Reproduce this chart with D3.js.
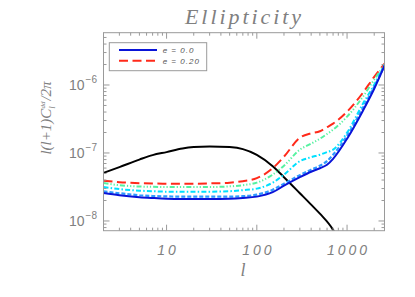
<!DOCTYPE html>
<html>
<head>
<meta charset="utf-8">
<script src="https://cdn.jsdelivr.net/npm/d3@7"></script>
<style>
  html, body { margin: 0; padding: 0; background: #fff; }
  svg { display: block; }
</style>
</head>
<body>
<div id="chart"></div>
<script>
// multipoles sampled along the x axis
const ells = [2, 3, 5, 7, 10, 15, 20, 30, 50, 70, 100, 150, 200, 300, 400, 500, 600, 700, 1000, 1500, 2000, 2600];

// black reference curve (own ell grid, it leaves the frame near l~700)
const refElls = [2, 3, 5, 7, 10, 15, 20, 30, 50, 70, 100, 150, 200, 300, 400, 500, 700, 800];
const refValues = [5.1e-8, 6.2e-8, 8.0e-8, 9.3e-8, 1.03e-7, 1.16e-7, 1.22e-7, 1.25e-7, 1.22e-7, 1.14e-7, 9.4e-8, 6.4e-8, 4.4e-8, 2.56e-8, 1.74e-8, 1.28e-8, 7.4e-9, 5.3e-9];

const e000 = [2.58e-8, 2.39e-8, 2.24e-8, 2.18e-8, 2.13e-8, 2.11e-8, 2.11e-8, 2.11e-8, 2.13e-8, 2.18e-8, 2.28e-8, 2.65e-8, 3.3e-8, 4.4e-8, 5.3e-8, 5.97e-8, 6.7e-8, 8.2e-8, 1.62e-7, 4.19e-7, 8.8e-7, 1.92e-6];
const e005 = [2.72e-8, 2.56e-8, 2.39e-8, 2.33e-8, 2.30e-8, 2.28e-8, 2.28e-8, 2.28e-8, 2.28e-8, 2.32e-8, 2.44e-8, 2.88e-8, 3.54e-8, 4.72e-8, 5.68e-8, 6.5e-8, 7.6e-8, 9.4e-8, 1.8e-7, 4.63e-7, 9.44e-7, 1.92e-6];
const e010 = [3.16e-8, 2.94e-8, 2.79e-8, 2.74e-8, 2.70e-8, 2.70e-8, 2.70e-8, 2.70e-8, 2.74e-8, 2.84e-8, 2.99e-8, 3.66e-8, 4.8e-8, 7.57e-8, 8.67e-8, 9.44e-8, 1.03e-7, 1.12e-7, 1.99e-7, 5.31e-7, 1.01e-6, 1.99e-6];
const e015 = [3.62e-8, 3.36e-8, 3.21e-8, 3.18e-8, 3.16e-8, 3.16e-8, 3.16e-8, 3.16e-8, 3.23e-8, 3.36e-8, 3.66e-8, 4.8e-8, 6.5e-8, 1.12e-7, 1.37e-7, 1.62e-7, 1.9e-7, 2.2e-7, 3.42e-7, 6.73e-7, 1.2e-6, 1.99e-6];
const e020 = [3.92e-8, 3.72e-8, 3.6e-8, 3.56e-8, 3.54e-8, 3.54e-8, 3.54e-8, 3.57e-8, 3.66e-8, 3.85e-8, 4.26e-8, 5.97e-8, 8.83e-8, 1.68e-7, 1.95e-7, 2.09e-7, 2.4e-7, 2.7e-7, 4.05e-7, 7.7e-7, 1.32e-6, 2.06e-6];

const xTickValues = [10, 100, 1000];
const yTickExponents = [-6, -7, -8];
const legendLabels = ["e = 0.0", "e = 0.20"];

// series styles (drawn back to front)
const series = [
    { values: e020, color: "#ff2a1a", dash: "9,4.5", width: 2 },
    { values: e015, color: "#55f2a0", dash: "5,2,1.2,2,1.2,2,1.2,2", width: 2 },
    { values: e010, color: "#00e0ff", dash: "5,2.2,1.5,2.2", width: 2 },
    { values: e005, color: "#2f9bff", dash: "4,2", width: 2.2 },
    { values: e000, color: "#0a14d8", dash: null, width: 2 }
];

const width = 415;
const height = 297;
const plotLeft = 103.5, plotRight = 384.5, plotTop = 32.7, plotBottom = 230.7;
const axisColor = "#9a9a9a";
const textColor = "#808080";

const svg = d3.select("#chart").append("svg")
    .attr("width", width)
    .attr("height", height);

const x = d3.scaleLog().domain([2, 2600]).range([plotLeft, plotRight]);
const y = d3.scaleLog().domain([Math.pow(10, -8.143), Math.pow(10, -5.231)]).range([plotBottom, plotTop]);

svg.append("clipPath").attr("id", "plot-clip")
    .append("rect")
    .attr("x", plotLeft).attr("y", plotTop)
    .attr("width", plotRight - plotLeft).attr("height", plotBottom - plotTop);

const line = d3.line()
    .x(d => x(d[0]))
    .y(d => y(d[1]))
    .curve(d3.curveMonotoneX);

const plot = svg.append("g").attr("clip-path", "url(#plot-clip)");

// black curve
plot.append("path")
    .attr("d", line(refElls.map((l, i) => [l, refValues[i]])))
    .attr("fill", "none")
    .attr("stroke", "#000")
    .attr("stroke-width", 2);

series.forEach(s => {
    plot.append("path")
        .attr("d", line(ells.map((l, i) => [l, s.values[i]])))
        .attr("fill", "none")
        .attr("stroke", s.color)
        .attr("stroke-width", s.width)
        .attr("stroke-dasharray", s.dash);
});

// --- frame and ticks (IDL style: inward ticks on all four sides) ---
svg.append("rect")
    .attr("x", plotLeft).attr("y", plotTop)
    .attr("width", plotRight - plotLeft).attr("height", plotBottom - plotTop)
    .attr("fill", "none")
    .attr("stroke", axisColor)
    .attr("stroke-width", 1);

const xMinor = [];
for (let dec = 1; dec <= 1000; dec *= 10) {
    for (let k = 1; k <= 9; k++) {
        const v = k * dec;
        if (v >= 2 && v <= 2600) xMinor.push(v);
    }
}
const yMinor = [];
for (let e = -9; e <= -6; e++) {
    for (let k = 1; k <= 9; k++) {
        const v = k * Math.pow(10, e);
        if (v >= y.domain()[0] && v <= y.domain()[1]) yMinor.push(v);
    }
}

const ticks = svg.append("g")
    .attr("stroke", axisColor)
    .attr("stroke-width", 1);

xMinor.forEach(v => {
    const len = xTickValues.includes(v) ? 6 : 3;
    const px = x(v);
    ticks.append("line").attr("x1", px).attr("x2", px).attr("y1", plotBottom).attr("y2", plotBottom - len);
    ticks.append("line").attr("x1", px).attr("x2", px).attr("y1", plotTop).attr("y2", plotTop + len);
});

yMinor.forEach(v => {
    const major = Math.abs(Math.log10(v) - Math.round(Math.log10(v))) < 1e-9;
    const len = major ? 6 : 3;
    const py = y(v);
    ticks.append("line").attr("x1", plotLeft).attr("x2", plotLeft + len).attr("y1", py).attr("y2", py);
    ticks.append("line").attr("x1", plotRight).attr("x2", plotRight - len).attr("y1", py).attr("y2", py);
});

// x tick labels
svg.append("g")
    .selectAll("text")
    .data(xTickValues)
    .join("text")
    .attr("x", d => x(d) + 1.5)
    .attr("y", 255)
    .attr("text-anchor", "middle")
    .attr("fill", textColor)
    .style("font", "italic 14px 'Liberation Sans', sans-serif")
    .style("letter-spacing", "3px")
    .text(d => d);

// y tick labels with superscript exponent
const yLabels = svg.append("g")
    .selectAll("text")
    .data(yTickExponents)
    .join("text")
    .attr("x", 97)
    .attr("y", d => y(Math.pow(10, d)) + 5.5)
    .attr("text-anchor", "end")
    .attr("fill", textColor)
    .style("font", "14px 'Liberation Sans', sans-serif");
yLabels.append("tspan").text("10");
yLabels.append("tspan")
    .attr("dy", -7)
    .attr("dx", 1)
    .style("font-size", "10px")
    .text(d => "\u2212" + Math.abs(d));

// title
svg.append("text")
    .attr("x", 243)
    .attr("y", 23.5)
    .attr("text-anchor", "middle")
    .attr("fill", textColor)
    .attr("textLength", 116)
    .style("font", "italic 22px 'Liberation Serif', serif")
    .text("Ellipticity");

// x axis label
svg.append("text")
    .attr("x", 243)
    .attr("y", 276)
    .attr("text-anchor", "middle")
    .attr("fill", textColor)
    .style("font", "italic 18px 'Liberation Serif', serif")
    .text("l");

// y axis label: l(l+1) C_l^dd / 2pi
const yTitle = svg.append("text")
    .attr("transform", "translate(51,118) rotate(-90)")
    .attr("text-anchor", "middle")
    .attr("fill", textColor)
    .style("font", "italic 15px 'Liberation Serif', serif");
yTitle.append("tspan").text("l(l+1)C");
yTitle.append("tspan").attr("dy", 3.5).style("font-size", "9px").text("l");
yTitle.append("tspan").attr("dy", -10).attr("dx", -2.5).style("font-size", "7px").text("dd");
yTitle.append("tspan").attr("dy", 6.5).attr("dx", 1).text("/2\u03c0");

// --- legend ---
const legend = svg.append("g");
legend.append("rect")
    .attr("x", 109.3).attr("y", 42.7)
    .attr("width", 97.4).attr("height", 28)
    .attr("fill", "#fff")
    .attr("stroke", axisColor)
    .attr("stroke-width", 1);

const legendStyles = [series[4], series[0]];
legendLabels.forEach((label, i) => {
    const ly = 50 + i * 10.7;
    legend.append("line")
        .attr("x1", 119).attr("x2", 157)
        .attr("y1", ly).attr("y2", ly)
        .attr("stroke", legendStyles[i].color)
        .attr("stroke-width", 2)
        .attr("stroke-dasharray", legendStyles[i].dash);
    legend.append("text")
        .attr("x", 162.7)
        .attr("y", ly + 3)
        .attr("fill", "#555")
        .style("font", "italic 8px 'Liberation Sans', sans-serif")
        .style("letter-spacing", "1px")
        .text(label);
});
</script>
</body>
</html>
